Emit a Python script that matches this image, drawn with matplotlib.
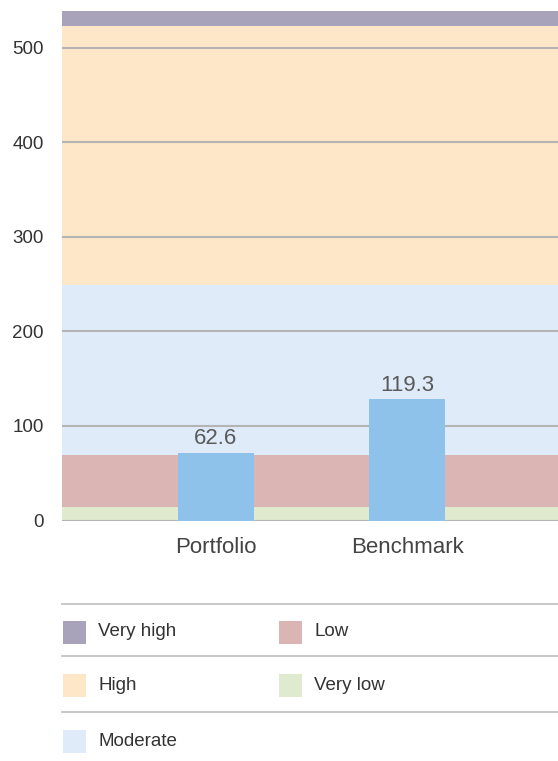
import matplotlib.pyplot as plt
from matplotlib.patches import Rectangle
from matplotlib.lines import Line2D

plt.rcParams['font.family'] = ['Liberation Sans', 'DejaVu Sans']

# risk bands (lower, upper)
band_names = ['Very low', 'Low', 'Moderate', 'High', 'Very high']
band_low = [0, 14.3, 69.3, 249, 523]
band_high = [14.3, 69.3, 249, 523, 539]
band_colors = ['#dfeacf', '#dbb5b3', '#dfebf9', '#fde7c8', '#a8a3bb']

categories = ['Portfolio', 'Benchmark']
bar_heights = [71.7, 128.6]
bar_labels = ['62.6', '119.3']
bar_color = '#8ec2ea'

yticks = [0, 100, 200, 300, 400, 500]

W, H = 558, 761
fig = plt.figure(figsize=(W / 100, H / 100), dpi=100)
ax = fig.add_axes([62 / W, 1 - 520.5 / H, (558 - 62) / W, (520.5 - 11) / H])

for lo, hi, c in zip(band_low, band_high, band_colors):
    ax.axhspan(lo, hi, color=c, lw=0, zorder=0)

for y in yticks:
    ax.axhline(y, color='#b4b4b4', lw=1.5, zorder=1)

xs = range(len(categories))
ax.bar(xs, bar_heights, width=0.4, color=bar_color, zorder=2)
for x, h, lab in zip(xs, bar_heights, bar_labels):
    ax.text(x, h + 3.5, lab, ha='center', va='bottom', fontsize=16,
            color='#5a5a5a')

ax.set_xlim(-0.806, 1.79)
ax.set_ylim(0, 539)
ax.set_yticks(yticks)
ax.set_xticks(list(xs))
ax.set_xticklabels(categories)
ax.tick_params(axis='y', length=0, pad=13, labelsize=13.5, labelcolor='#333333')
ax.tick_params(axis='x', length=0, pad=12, labelsize=16, labelcolor='#444444')
for s in ax.spines.values():
    s.set_visible(False)

# legend block below the chart
def fx(px):
    return px / W

def fy(py):
    return 1 - py / H

for py in [604, 656, 712]:
    fig.add_artist(Line2D([fx(62), fx(558)], [fy(py), fy(py)],
                          transform=fig.transFigure, color='#c4c4c4', lw=1.3))

legend_items = [('Very high', 63, 632), ('Low', 279, 632),
                ('High', 63, 685), ('Very low', 279, 685),
                ('Moderate', 63, 741)]
color_of = dict(zip(band_names, band_colors))
for name, px, py in legend_items:
    fig.add_artist(Rectangle((fx(px), fy(py + 11.5)), 23 / W, 23 / H,
                             transform=fig.transFigure, color=color_of[name], lw=0))
    fig.text(fx(px + 35), fy(py), name, ha='left', va='center',
             fontsize=13.5, color='#333333')

fig.savefig('out.png', dpi=100)
